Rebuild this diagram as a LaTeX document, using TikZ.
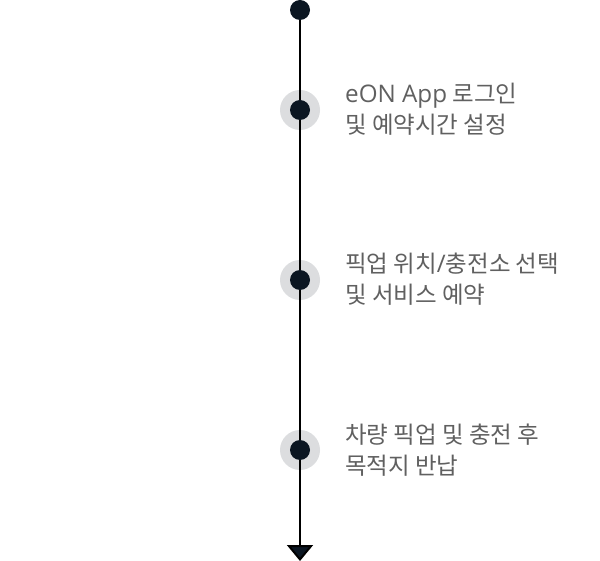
\documentclass[tikz,border=0pt]{standalone}
\usepackage{fontspec}
\setmainfont{Noto Sans CJK KR}
\newfontfamily\latinfont[Scale=1.03]{Open Sans}
\usetikzlibrary{arrows.meta, positioning}
\definecolor{dotdark}{HTML}{0B1622}
\definecolor{halogray}{HTML}{DCDDDF}
\definecolor{textgray}{HTML}{606060}

\begin{document}
\begin{tikzpicture}[x=1pt, y=-1pt,
  dot/.style={circle, fill=dotdark, inner sep=0pt, minimum size=20pt},
  halo/.style={circle, fill=halogray, inner sep=0pt, minimum size=40pt},
  steptext/.style={anchor=base west, align=left, text=textgray, inner sep=0pt,
    font=\fontsize{23.5}{31}\selectfont}]
\useasboundingbox (0,0) rectangle (600,561);

\node[halo] (h1) at (300,110) {};
\node[halo] (h2) at (300,280) {};
\node[halo] (h3) at (300,450) {};

\coordinate (top) at (300,10);
\coordinate (end) at (300,561);
\draw[line width=2pt, black, -{Triangle[width=26pt, length=16pt, fill=dotdark]}] (top) -- (end);

\node[dot] (d0) at (top) {};
\node[dot] (d1) at (h1) {};
\node[dot] (d2) at (h2) {};
\node[dot] (d3) at (h3) {};

% base anchor sits on the second line
\node[steptext] (t1) at (345,134) {{\latinfont eON App} 로그인\\및 예약시간 설정};
\node[steptext] (t2) at (345,304) {픽업 위치{\latinfont /}충전소 선택\\및 서비스 예약};
\node[steptext] (t3) at (345,474) {차량 픽업 및 충전 후\\목적지 반납};
\end{tikzpicture}
\end{document}
